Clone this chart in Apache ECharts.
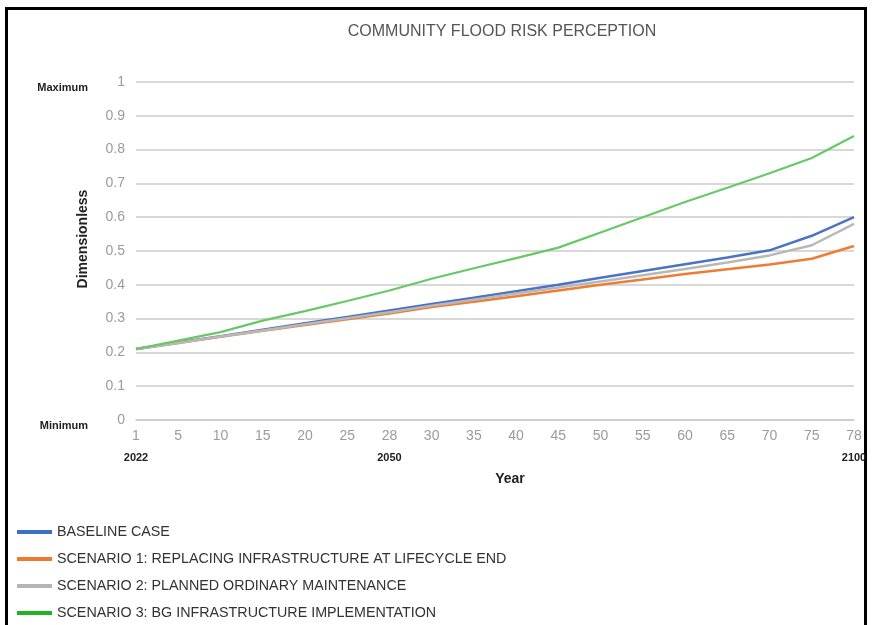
<!DOCTYPE html>
<html>
<head>
<meta charset="utf-8">
<title>Community Flood Risk Perception</title>
<script src="https://cdn.jsdelivr.net/npm/echarts@6/dist/echarts.min.js"></script>
<style>
  html, body { margin: 0; padding: 0; background: #ffffff; }
  #chart { width: 872px; height: 625px; }
</style>
</head>
<body>
<div id="chart"></div>
<script>
// Simulation step (year index) shown along the horizontal axis
const steps = ['1', '5', '10', '15', '20', '25', '28', '30', '35', '40', '45', '50', '55', '60', '65', '70', '75', '78'];

// Calendar years marked under selected steps
const anchorSteps = ['1', '28', '78'];
const anchorYears = ['2022', '2050', '2100'];

// Perception index per scenario (dimensionless, 0 = minimum, 1 = maximum)
const baseline  = [0.21, 0.229, 0.248, 0.267, 0.286, 0.305, 0.324, 0.343, 0.362, 0.381, 0.400, 0.421, 0.441, 0.461, 0.481, 0.502, 0.545, 0.600];
const scenario1 = [0.21, 0.228, 0.246, 0.264, 0.281, 0.298, 0.315, 0.334, 0.350, 0.366, 0.383, 0.400, 0.416, 0.432, 0.446, 0.460, 0.477, 0.515];
const scenario2 = [0.21, 0.228, 0.247, 0.265, 0.283, 0.301, 0.319, 0.338, 0.356, 0.374, 0.392, 0.410, 0.428, 0.447, 0.466, 0.487, 0.517, 0.580];
const scenario3 = [0.21, 0.235, 0.260, 0.294, 0.322, 0.352, 0.383, 0.418, 0.449, 0.479, 0.510, 0.555, 0.600, 0.645, 0.687, 0.730, 0.775, 0.840];

const seriesNames = [
  'BASELINE CASE',
  'SCENARIO 1: REPLACING INFRASTRUCTURE AT LIFECYCLE END',
  'SCENARIO 2: PLANNED ORDINARY MAINTENANCE',
  'SCENARIO 3: BG INFRASTRUCTURE IMPLEMENTATION'
];

const FONT = '"Liberation Sans", Arial, Helvetica, sans-serif';
const GRID_GRAY = '#cbcbcb';

function lineSeries(name, data, keyColor, strokeColor, width) {
  return {
    name: name,
    type: 'line',
    data: data,
    xAxisIndex: 0,
    yAxisIndex: 0,
    showSymbol: false,
    symbol: 'none',
    smooth: false,
    itemStyle: { color: keyColor },
    lineStyle: { color: strokeColor, width: width },
    emphasis: { disabled: true }
  };
}

const chart = echarts.init(document.getElementById('chart'), null, { renderer: 'canvas' });

chart.setOption({
  animation: false,
  backgroundColor: '#ffffff',
  textStyle: { fontFamily: FONT },
  title: {
    text: 'COMMUNITY FLOOD RISK PERCEPTION',
    left: 497,
    top: 19,
    textAlign: 'center',
    textStyle: { fontFamily: FONT, fontSize: 16, fontWeight: 'normal', color: '#555555' }
  },
  grid: { left: 136, right: 18, top: 82, bottom: 205, containLabel: false },
  legend: {
    orient: 'vertical',
    left: 17,
    top: 524,
    padding: 0,
    height: 100,
    icon: 'rect',
    itemWidth: 35,
    itemHeight: 4,
    itemGap: 11,
    selectedMode: false,
    data: seriesNames,
    textStyle: { fontFamily: FONT, fontSize: 14.3, color: '#333333', lineHeight: 16 }
  },
  xAxis: [
    {
      type: 'category',
      data: steps,
      boundaryGap: false,
      axisLine: { show: true, lineStyle: { color: GRID_GRAY, width: 1.5 } },
      axisTick: { show: false },
      axisLabel: { interval: 0, margin: 9, fontFamily: FONT, fontSize: 14, color: '#9b9b9b' },
      splitLine: { show: false },
      name: 'Year',
      nameLocation: 'middle',
      nameGap: 52,
      nameTextStyle: { fontFamily: FONT, fontSize: 14, fontWeight: 'bold', color: '#222222', padding: [0, 0, 0, 30] }
    },
    {
      type: 'category',
      data: steps,
      boundaryGap: false,
      position: 'bottom',
      offset: 24,
      axisLine: { show: false },
      axisTick: { show: false },
      splitLine: { show: false },
      axisLabel: {
        interval: 0,
        margin: 8,
        fontFamily: FONT,
        fontSize: 11,
        fontWeight: 'bold',
        color: '#222222',
        formatter: function (v) {
          const i = anchorSteps.indexOf(v);
          return i >= 0 ? anchorYears[i] : '';
        }
      }
    }
  ],
  yAxis: [
    {
      type: 'value',
      min: 0,
      max: 1,
      interval: 0.1,
      axisLine: { show: false },
      axisTick: { show: false },
      axisLabel: { margin: 11, fontFamily: FONT, fontSize: 14, color: '#9b9b9b' },
      splitLine: { show: true, lineStyle: { color: GRID_GRAY, width: 1.5 } },
      name: 'Dimensionless',
      nameLocation: 'middle',
      nameGap: 46,
      nameTextStyle: { fontFamily: FONT, fontSize: 14, fontWeight: 'bold', color: '#222222', padding: [0, 0, 0, 24] }
    },
    {
      type: 'value',
      min: 0,
      max: 1,
      interval: 0.1,
      position: 'left',
      offset: 48,
      axisLine: { show: false },
      axisTick: { show: false },
      splitLine: { show: false },
      axisLabel: {
        margin: 0,
        fontFamily: FONT,
        fontSize: 11,
        fontWeight: 'bold',
        color: '#222222',
        verticalAlign: 'top',
        formatter: function (v) {
          if (v === 1) return 'Maximum';
          if (v === 0) return 'Minimum';
          return '';
        }
      }
    }
  ],
  series: [
    lineSeries(seriesNames[0], baseline,  '#3e6fc6', '#4a73c4', 2.5),
    lineSeries(seriesNames[1], scenario1, '#ee7a2f', '#ee7d33', 2.5),
    lineSeries(seriesNames[2], scenario2, '#b5b5b5', '#b8b8b8', 2.5),
    lineSeries(seriesNames[3], scenario3, '#1fb41f', '#66c966', 2.2)
  ],
  graphic: [
    {
      type: 'rect',
      silent: true,
      shape: { x: 6.5, y: 8.5, width: 859, height: 700 },
      style: { fill: null, stroke: '#000000', lineWidth: 3 }
    }
  ]
});
</script>
</body>
</html>
